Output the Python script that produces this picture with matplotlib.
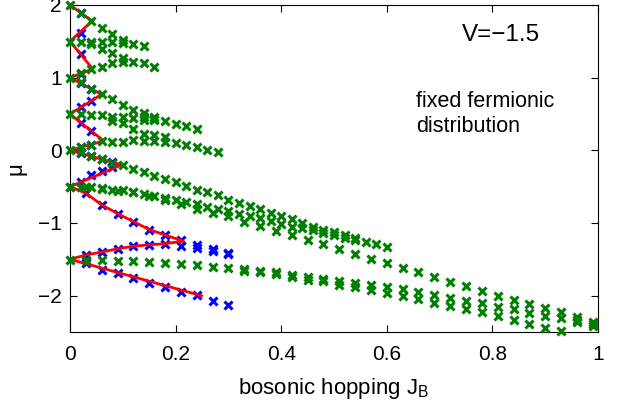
import numpy as np
import matplotlib
matplotlib.use("Agg")
import matplotlib.pyplot as plt

plt.rcParams['font.family'] = ['Liberation Sans', 'DejaVu Sans']
plt.rcParams['mathtext.fontset'] = 'custom'
plt.rcParams['mathtext.rm'] = 'Liberation Sans'

# -------------------------- data --------------------------

# green crosses, one list per visible row
g_top_x = [0, .02, .04, .06, .08]
g_top_y = [2.0, 1.89, 1.78, 1.69, 1.60]

g_15_x = [0, .02, .04, .04, .06, .06, .08, .08, .10, .10, .12, .14]
g_15_y = [1.49, 1.49, 1.49, 1.46, 1.49, 1.39, 1.49, 1.335, 1.52, 1.48, 1.46, 1.43]

g_12_x = [.02, .04, .06, .08, .10, .10, .12, .14, .16]
g_12_y = [1.06, 1.12, 1.15, 1.20, 1.27, 1.22, 1.22, 1.20, 1.15]

g_1_x = [0, .02, .04, .06, .08, .10, .12, .14, .14, .16, .16, .18, .20, .22, .24]
g_1_y = [1.0, .945, .85, .77, .71, .63, .56, .51, .46, .46, .43, .40, .36, .335, .30]

g_05_x = [0, .02, .04, .06, .08, .08, .10, .10, .12, .12, .14, .16]
g_05_y = [.50, .50, .49, .48, .46, .40, .46, .37, .44, .30, .42, .42]

g_0_x = [.02, .04, .06, .08, .10, .12, .14, .14, .16, .16, .18, .18, .20, .22, .24, .26, .28]
g_0_y = [.04, .08, .125, .11, .12, .14, .22, .13, .21, .13, .18, .11, .10, .08, .05, .01, -.02]

g_m0_x = np.round(np.arange(0, 0.601, 0.02), 2)
g_m0_y = [0, -.02, -.08, -.125, -.17, -.20, -.26, -.30, -.35, -.40, -.44, -.49,
          -.545, -.58, -.62, -.68, -.72, -.765, -.81, -.86, -.90, -.95, -1.0,
          -1.05, -1.09, -1.12, -1.165, -1.21, -1.255, -1.29, -1.325]

g_m05b_x = np.round(np.arange(0, 0.541, 0.02), 2)
g_m05b_y = [-.50, -.50, -.51, -.52, -.545, -.55, -.575, -.60, -.63, -.66, -.69,
            -.715, -.745, -.775, -.81, -.835, -.87, -.90, -.935, -.97, -1.01,
            -1.05, -1.07, -1.10, -1.14, -1.165, -1.20, -1.24]

g_m05c_x = np.round(np.arange(0, 0.991, 0.03), 2)
g_m05c_y = [-.50, -.51, -.53, -.555, -.58, -.635, -.69, -.74, -.81, -.86, -.90,
            -.98, -1.04, -1.105, -1.16, -1.23, -1.29, -1.36, -1.42, -1.49, -1.555,
            -1.615, -1.68, -1.74, -1.81, -1.87, -1.93, -2.0, -2.06, -2.12, -2.17,
            -2.23, -2.30, -2.36]

g_m15_x = np.round(np.arange(0, 0.301, 0.03), 2)
g_m15_y = [-1.51, -1.51, -1.51, -1.52, -1.52, -1.54, -1.55, -1.565, -1.58, -1.60, -1.62]

g_m15ab_x = np.round(np.arange(0.33, 0.991, 0.03), 2)
g_m15a_y = [-1.635, -1.655, -1.675, -1.71, -1.74, -1.765, -1.80, -1.83, -1.85,
            -1.885, -1.91, -1.945, -1.99, -2.03, -2.07, -2.105, -2.15, -2.19,
            -2.24, -2.28, -2.31, -2.33, -2.39]
g_m15b_y = [-1.655, -1.68, -1.70, -1.745, -1.78, -1.80, -1.85, -1.88, -1.92,
            -1.96, -2.01, -2.05, -2.10, -2.14, -2.19, -2.23, -2.28, -2.33,
            -2.39, -2.44, -2.48, -2.36, -2.42]

green_rows = [(g_top_x, g_top_y), (g_15_x, g_15_y), (g_12_x, g_12_y),
              (g_1_x, g_1_y), (g_05_x, g_05_y), (g_0_x, g_0_y),
              (g_m0_x, g_m0_y), (g_m05b_x, g_m05b_y), (g_m05c_x, g_m05c_y),
              (g_m15_x, g_m15_y), (g_m15ab_x, g_m15a_y), (g_m15ab_x, g_m15b_y)]

# blue crosses
b_up_x = [.02, .02, .02, .02, .02, .04, .02, .04, .02, .04, .02, .04,
          .02, .04, .06, .08, .02, .04, .06, .08]
b_up_y = [1.89, 1.62, 1.33, 1.055, .93, .85, .59, .68, .38, .27, .04, .08,
          -.04, -.08, -.12, -.165, -.43, -.34, -.29, -.23]

b_desc_x = [.03, .06, .09, .12, .15, .18]
b_desc_y = [-.59, -.75, -.87, -.98, -1.09, -1.165]

b_tip_x = [.21, .21, .24, .24, .27, .27, .30, .30]
b_tip_y = [-1.235, -1.315, -1.30, -1.35, -1.36, -1.385, -1.41, -1.43]

b_rise_x = [.03, .06, .09, .12, .15, .18]
b_rise_y = [-1.44, -1.40, -1.355, -1.32, -1.30, -1.285]

b_low_x = [.03, .06, .09, .12, .15, .18, .21, .24, .27, .30]
b_low_y = [-1.555, -1.64, -1.69, -1.76, -1.82, -1.875, -1.945, -1.99, -2.07, -2.13]

blue_rows = [(b_up_x, b_up_y), (b_desc_x, b_desc_y), (b_tip_x, b_tip_y),
             (b_rise_x, b_rise_y), (b_low_x, b_low_y)]

# red lobe boundary
red_x = [0, .042, 0, .043, 0, .06, 0, .064, 0, .098, 0, .03, .06, .09, .12, .15,
         .18, .215, .18, .15, .12, .09, .06, .03, 0, .249]
red_y = [2, 1.78, 1.5, 1.12, 1.0, .77, .5, .13, 0, -.2, -.5, -.59, -.75, -.87,
         -.98, -1.09, -1.165, -1.25, -1.285, -1.30, -1.32, -1.355, -1.40, -1.44,
         -1.5, -2.0]

# -------------------------- plotting --------------------------

fig = plt.figure(figsize=(6.28, 4.12), dpi=100)
ax = fig.add_axes([70 / 628, 80 / 412, 528 / 628, 327 / 412])

mk = dict(marker='x', linestyle='none', markersize=5.5, markeredgewidth=2.2, clip_on=False)
for xs, ys in blue_rows:
    ax.plot(xs, ys, color='#0000ff', zorder=2, **mk)
ax.plot(red_x, red_y, color='#ff0000', linewidth=2, zorder=3)
for xs, ys in green_rows:
    ax.plot(xs, ys, color='#008000', zorder=4, **mk)

ax.set_xlim(0, 1)
ax.set_ylim(-2.5, 2)
ax.set_xticks([0, 0.2, 0.4, 0.6, 0.8, 1])
ax.set_xticklabels(['0', '0.2', '0.4', '0.6', '0.8', '1'])
ax.set_yticks([-2, -1, 0, 1, 2])
ax.tick_params(direction='in', length=5, width=0.8, top=True, right=True,
               labelsize=15)
ax.tick_params(axis='x', pad=9)
ax.tick_params(axis='y', pad=6)
for s in ax.spines.values():
    s.set_linewidth(0.8)

ax.set_xlabel(r'bosonic hopping J$_{\mathrm{B}}$', fontsize=16, labelpad=9)
ax.set_ylabel('μ', fontsize=16, labelpad=8)

ax.text(0.816, 1.505, 'V=\u22121.5', fontsize=17.5, ha='center', va='baseline')
ax.text(0.655, 0.60, 'fixed fermionic', fontsize=15.5, ha='left', va='baseline')
ax.text(0.655, 0.256, 'distribution', fontsize=15.5, ha='left', va='baseline')

fig.savefig('out.png', dpi=100)
